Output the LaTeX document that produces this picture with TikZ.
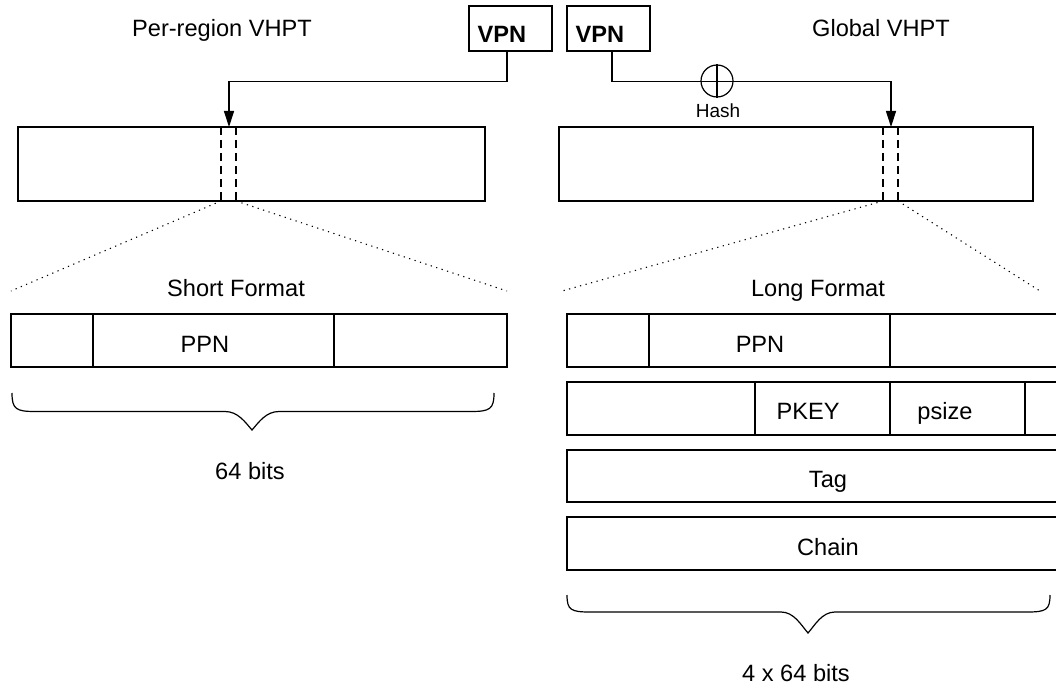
\documentclass[tikz,border=0pt]{standalone}
\usepackage{fontspec}
\setmainfont{Liberation Sans}
\usetikzlibrary{arrows.meta}
\begin{document}
\begin{tikzpicture}[x=1pt,y=-1pt,line width=1.2pt,
  box/.style={draw, line width=1.2pt, inner sep=0pt, rectangle},
  txt/.style={font=\fontsize{23.6}{28}\selectfont, anchor=base, inner sep=0pt},
  smalltxt/.style={font=\fontsize{19}{22}\selectfont, anchor=base, inner sep=0pt},
  conn/.style={draw, line width=1.2pt, -{Triangle[length=16pt,width=10pt]}},
  dashline/.style={draw, line width=1.2pt, dash pattern=on 8pt off 5pt},
  dotline/.style={draw, line width=1.1pt, dash pattern=on 1.2pt off 4.5pt},
  brace/.style={draw, line width=1.2pt}]
\useasboundingbox (0,0) rectangle (1056,687);
\clip (0,0) rectangle (1056,687);

% titles
\node[txt] (tL) at (222,37) {Per-region VHPT};
\node[txt] (tR) at (881,37) {Global VHPT};

% VPN boxes
\node[box, minimum width=83pt, minimum height=45pt] (vpn1) at (510.5,28.5) {};
\node[box, minimum width=83pt, minimum height=45pt] (vpn2) at (608.5,28.5) {};
\node[txt, anchor=base west, font=\fontsize{23.6}{28}\selectfont\bfseries] (vpn1t) at (477,43) {VPN};
\node[txt, anchor=base west, font=\fontsize{23.6}{28}\selectfont\bfseries] (vpn2t) at (575,43) {VPN};

% big tables
\node[box, minimum width=467pt, minimum height=74pt] (bigL) at (251.5,164) {};
\node[box, minimum width=474pt, minimum height=74pt] (bigR) at (796,164) {};

\coordinate (tipL) at (229,127);
\coordinate (tipR) at (891,127);

% connectors
\draw[conn] ([xshift=-3.5pt]vpn1.south) -- ++(0,30) -| (tipL);
\draw[conn] ([xshift=3.5pt]vpn2.south) -- ++(0,30) -| (tipR);

% hash
\node[circle, draw, line width=1.2pt, minimum size=32pt, inner sep=0pt] (hash) at (717,81) {};
\draw[line width=1.2pt] (hash.north) -- (hash.south);
\node[smalltxt] (hasht) at (718,118) {Hash};

% dashed entry markers
\coordinate (dL1) at (221,127); \coordinate (dL2) at (236,127);
\coordinate (dL1b) at (221,201); \coordinate (dL2b) at (236,201);
\coordinate (dR1) at (883,127); \coordinate (dR2) at (898,127);
\coordinate (dR1b) at (883,201); \coordinate (dR2b) at (898,201);
\draw[dashline] (dL1) -- (dL1b);
\draw[dashline] (dL2) -- (dL2b);
\draw[dashline] (dR1) -- (dR1b);
\draw[dashline] (dR2) -- (dR2b);

% dotted zoom lines
\coordinate (zL1) at (11,291); \coordinate (zL2) at (507,291);
\coordinate (zR1) at (562,291); \coordinate (zR2) at (1040,291);
\draw[dotline] (dL1b) -- (zL1);
\draw[dotline] (dL2b) -- (zL2);
\draw[dotline] (dR1b) -- (zR1);
\draw[dotline] (dR2b) -- (zR2);

% format titles
\node[txt] (sf) at (236,296) {Short Format};
\node[txt] (lf) at (818,296) {Long Format};

% short format row
\node[box, minimum width=496pt, minimum height=53pt] (srow) at (259,340.5) {};
\draw (93,314) -- (93,367);
\draw (334,314) -- (334,367);
\node[txt] (sppn) at (205,352) {PPN};

% long format rows
\node[box, minimum width=503pt, minimum height=53pt] (lrow1) at (818.5,340.5) {};
\draw (649,314) -- (649,367);
\draw (890,314) -- (890,367);
\node[txt] (lppn) at (760,352) {PPN};

\node[box, minimum width=503pt, minimum height=53pt] (lrow2) at (818.5,408.5) {};
\draw (755,382) -- (755,435);
\draw (890,382) -- (890,435);
\draw (1025,382) -- (1025,435);
\node[txt] (pkey) at (808,419) {PKEY};
\node[txt] (psize) at (945,419) {psize};

\node[box, minimum width=503pt, minimum height=52pt] (lrow3) at (818.5,476) {};
\node[txt] (tag) at (828,487) {Tag};

\node[box, minimum width=503pt, minimum height=53pt] (lrow4) at (818.5,543.5) {};
\node[txt] (chain) at (828,555) {Chain};

% braces
\draw[brace] (12,393) .. controls (12,409) and (16,411.5) .. (35,411.5) -- (225,411.5)
  .. controls (238,411.5) and (245,422) .. (252,430)
  .. controls (259,422) and (266,411.5) .. (279,411.5) -- (471,411.5)
  .. controls (490,411.5) and (494,409) .. (494,393);
\draw[brace] (567,595) .. controls (567,610) and (571,612) .. (590,612) -- (781,612)
  .. controls (794,612) and (801,625) .. (808,633)
  .. controls (815,625) and (822,612) .. (835,612) -- (1027,612)
  .. controls (1046,612) and (1050,610) .. (1050,595);

\node[txt] (b64) at (250,479) {64 bits};
\node[txt] (b256) at (796,681) {4 x 64 bits};
\end{tikzpicture}
\end{document}
